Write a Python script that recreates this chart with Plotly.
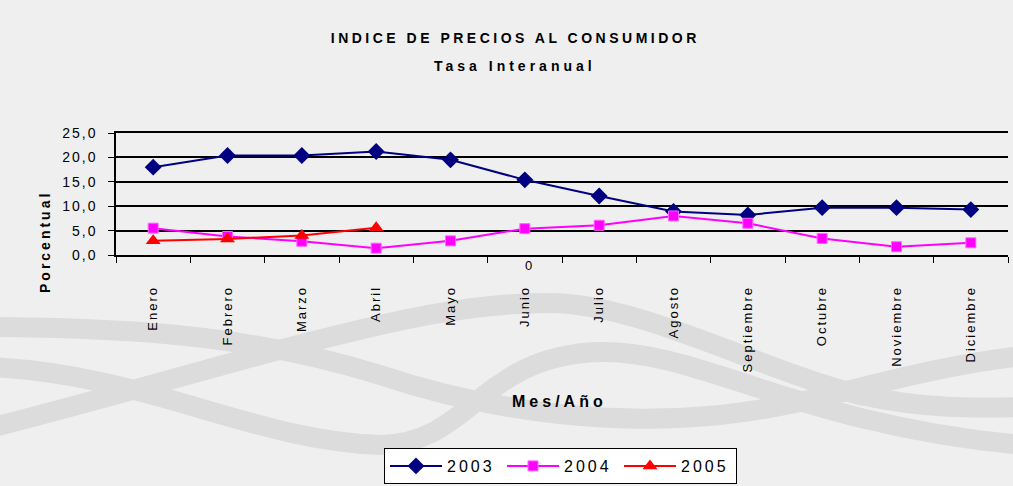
import plotly.graph_objects as go

months = ["Enero", "Febrero", "Marzo", "Abril", "Mayo", "Junio", "Julio",
          "Agosto", "Septiembre", "Octubre", "Noviembre", "Diciembre"]
ipc_2003 = [18.0, 20.4, 20.4, 21.2, 19.5, 15.4, 12.1, 8.9, 8.2, 9.7, 9.7, 9.3]
ipc_2004 = [5.5, 3.8, 2.8, 1.4, 2.9, 5.4, 6.1, 8.0, 6.5, 3.4, 1.7, 2.5]
ipc_2005 = [2.9, 3.3, 4.0, 5.6]
y_ticks = [0, 5, 10, 15, 20, 25]

FONT = "Liberation Sans, Arial, sans-serif"

W, H = 1013, 486
L, R, T, B = 116, 5, 133, 231
PW, PH = W - L - R, H - T - B


def px(x):
    return (x - L) / PW


def py(y):
    return (H - B - y) / PH


fig = go.Figure()
fig.add_trace(go.Scatter(x=months, y=ipc_2003, name="2003", mode="lines+markers",
                         line=dict(color="#000080", width=2),
                         marker=dict(symbol="diamond", size=13, color="#000080")))
fig.add_trace(go.Scatter(x=months, y=ipc_2004, name="2004", mode="lines+markers",
                         line=dict(color="#FF00FF", width=2),
                         marker=dict(symbol="square", size=10, color="#FF00FF",
                                     line=dict(color="#FF66FF", width=1))))
fig.add_trace(go.Scatter(x=months[:len(ipc_2005)], y=ipc_2005, name="2005", mode="lines+markers",
                         line=dict(color="#FF0000", width=2),
                         marker=dict(symbol="triangle-up", size=13, color="#FF0000")))


# decorative watermark bands (background only)
def band_path(pts):
    s = "M %.4f,%.4f" % (px(pts[0][0]), py(pts[0][1]))
    for i in range(1, len(pts), 3):
        (a, b), (c, d), (e, f) = pts[i], pts[i + 1], pts[i + 2]
        s += " C %.4f,%.4f %.4f,%.4f %.4f,%.4f" % (px(a), py(b), px(c), py(d), px(e), py(f))
    return s


bands = [
    # big arch
    [(-10, 428), (80, 405), (150, 385), (260, 355), (400, 318), (470, 303), (549, 303),
     (640, 303), (760, 370), (860, 395), (930, 410), (980, 408), (1023, 407)],
    # upper-left band sinking to the middle then rising right
    [(-10, 327), (150, 328), (260, 338), (380, 375), (500, 415), (620, 425), (720, 415),
     (820, 405), (900, 370), (1023, 356)],
    # lower band
    [(-10, 367), (150, 375), (250, 440), (380, 445), (470, 445), (480, 355), (600, 352),
     (700, 350), (800, 425), (1023, 445)],
]
shapes = []
for pts in bands:
    shapes.append(dict(type="path", path=band_path(pts), xref="paper", yref="paper",
                       line=dict(color="#dcdcdc", width=20), layer="below"))

fig.update_layout(
    width=W, height=H,
    margin=dict(l=L, r=R, t=T, b=B, autoexpand=False),
    paper_bgcolor="#efefef",
    plot_bgcolor="rgba(0,0,0,0)",
    separators=",.",
    font=dict(family=FONT, color="black", size=13),
    showlegend=True,
    shapes=shapes,
    legend=dict(orientation="h", x=px(384), xanchor="left", y=py(484), yanchor="bottom",
                bgcolor="white", bordercolor="black", borderwidth=1,
                font=dict(size=16, family=FONT), entrywidth=50, itemwidth=52,
                traceorder="normal"),
    xaxis=dict(type="category", categoryorder="array", categoryarray=months,
               range=[-0.5, 11.5], showgrid=False, showline=True, mirror=True,
               linecolor="black", linewidth=1.5, ticks="outside", tickson="boundaries",
               ticklen=6, tickcolor="black", tickangle=-90,
               tickfont=dict(size=13, family=FONT), ticklabelstandoff=24, zeroline=False),
    yaxis=dict(range=[0, 25], tickvals=y_ticks, tickformat=".1f", showgrid=True,
               gridcolor="black", gridwidth=1.5, showline=True, linecolor="black",
               linewidth=1.5, ticks="outside", ticklen=6, tickcolor="black",
               tickfont=dict(size=14, family=FONT), ticklabelstandoff=8, zeroline=False),
    annotations=[
        dict(text="<b>INDICE DE PRECIOS AL CONSUMIDOR</b>", xref="paper", yref="paper",
             x=px(515), y=py(38), xanchor="center", yanchor="middle",
             showarrow=False, font=dict(size=14, family=FONT)),
        dict(text="<b>Tasa Interanual</b>", xref="paper", yref="paper",
             x=px(515), y=py(66), xanchor="center", yanchor="middle",
             showarrow=False, font=dict(size=14, family=FONT)),
        dict(text="<b>Porcentual</b>", xref="paper", yref="paper", textangle=-90,
             x=px(45), y=py(242), xanchor="center", yanchor="middle",
             showarrow=False, font=dict(size=14, family=FONT)),
        dict(text="<b>Mes/Año</b>", xref="paper", yref="paper",
             x=px(559), y=py(401), xanchor="center", yanchor="middle",
             showarrow=False, font=dict(size=16, family=FONT)),
        dict(text="0", xref="paper", yref="paper",
             x=px(528), y=py(265), xanchor="center", yanchor="middle",
             showarrow=False, font=dict(size=13, family=FONT)),
    ],
)

post = """
document.body.style.margin='0';
var gd=document.getElementById('{plot_id}');
function ls(sel, v){gd.querySelectorAll(sel).forEach(function(t){t.style.letterSpacing=v;});}
ls('.xtick text','2px'); ls('.ytick text','2px'); ls('.legendtext','3px');
var sp=['3.5px','4px','3px','4px','0px'];
gd.querySelectorAll('.annotation-text').forEach(function(t,i){t.style.letterSpacing=sp[i]||'0px';});
"""

fig.write_html("out.html", post_script=post, config={"displayModeBar": False})
